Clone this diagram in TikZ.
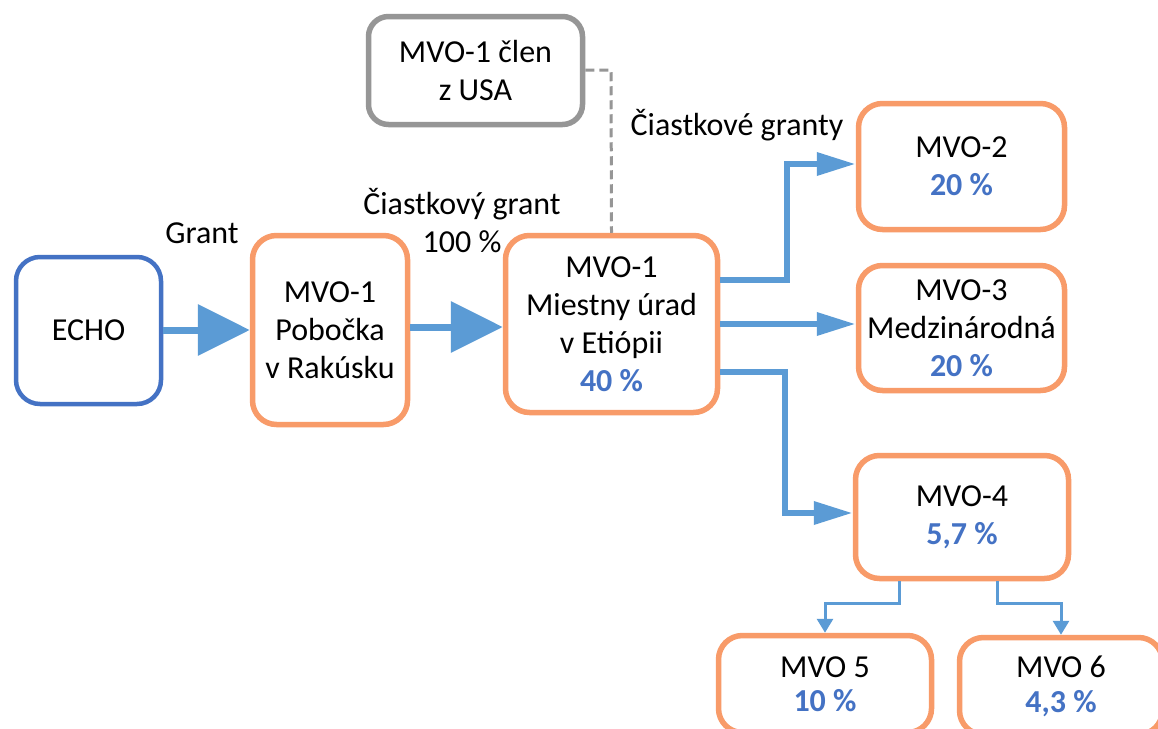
\documentclass[tikz,border=0pt]{standalone}
\usepackage{fontspec}
\setmainfont{Carlito}
\usetikzlibrary{arrows.meta}
\definecolor{boxorange}{RGB}{248,155,105}
\definecolor{boxblue}{RGB}{68,114,196}
\definecolor{arrowblue}{RGB}{91,155,213}
\definecolor{boxgray}{RGB}{150,150,150}
\definecolor{pctblue}{RGB}{68,114,196}
\newcommand\pctx[1]{{\bfseries\color{pctblue}#1}}
\tikzset{
  box/.style={draw, fill=white, rounded corners=24pt, align=center, inner sep=0pt},
  orangebox/.style={box, draw=boxorange, line width=5.5pt},
  bluebox/.style={box, draw=boxblue, line width=4.5pt},
  graybox/.style={box, draw=boxgray, line width=5.5pt, rounded corners=20pt},
  bigarrow/.style={draw=arrowblue, line width=7pt, -{Triangle[length=52pt,width=50pt]}},
  midarrow/.style={draw=arrowblue, line width=6.5pt, -{Triangle[length=39pt,width=22pt]}},
  smallarrow/.style={draw=arrowblue, line width=3pt, -{Triangle[length=14pt,width=16pt]}},
  dashline/.style={draw=boxgray, line width=3pt, dash pattern=on 9pt off 5pt},
  lbl/.style={align=center, inner sep=0pt}
}
\begin{document}
\begin{tikzpicture}[x=1pt, y=-1pt, font=\fontsize{32}{38}\selectfont]
\clip (0,0) rectangle (1158,728);
\fill[white] (0,0) rectangle (1158,728);
% boxes
\node[bluebox, minimum width=145pt, minimum height=147pt] (echo) at (88.5,330.5) {ECHO};
\node[orangebox, minimum width=155pt, minimum height=189pt] (pob) at (330,330) {MVO-1\\Pobočka\\v Rakúsku};
\node[orangebox, minimum width=212pt, minimum height=177pt] (mies) at (611.5,324) {MVO-1\\Miestny úrad\\v Etiópii\\\pctx{40 \%}};
\node[graybox, minimum width=214pt, minimum height=108pt] (clen) at (475.5,70.5) {MVO-1 člen\\z USA};
\node[orangebox, minimum width=206pt, minimum height=126pt] (m2) at (961.5,166.5) {MVO-2\\\pctx{20 \%}};
\node[orangebox, minimum width=206pt, minimum height=125pt] (m3) at (961.5,328) {MVO-3\\Medzinárodná\\\pctx{20 \%}};
\node[orangebox, minimum width=213pt, minimum height=123pt] (m4) at (962,517) {MVO-4\\\pctx{5,7 \%}};
\node[orangebox, minimum width=213pt, minimum height=97pt] (m5) at (825,684) {MVO 5\\[-4pt]\pctx{10 \%}};
\node[orangebox, minimum width=203pt, minimum height=97pt] (m6) at (1061,686) {MVO 6\\[-3pt]\pctx{4,3 \%}};
% labels
\node[lbl] (lgrant) at (202,233) {Grant};
\node[lbl] (lcg) at (462,221) {Čiastkový grant\\100 \%};
\node[lbl] (lcgs) at (737,125) {Čiastkové granty};
% bend coordinates
\coordinate (d1) at (611,70);
\coordinate (b2) at (787,280);
\coordinate (b4) at (785,372);
\coordinate (b5) at (899,603);
\coordinate (b6) at (997,603);
% connectors
\draw[dashline] (clen.east |- d1) -- (d1) -- (mies.north);
\draw[bigarrow] (echo.east |- pob.west) -- (pob.west);
\draw[bigarrow] (pob.east |- 0,327) -- (mies.west |- 0,327);
\draw[midarrow] (mies.east |- b2) -- (b2) |- (m2.west |- 0,164);
\draw[midarrow] (mies.east |- 0,324) -- (m3.west |- 0,324);
\draw[midarrow] (mies.east |- b4) -- (b4) |- (m4.west |- 0,513);
\draw[smallarrow] (m4.south -| b5) -- (b5) -| (m5.north);
\draw[smallarrow] (m4.south -| b6) -- (b6) -| (m6.north);
\end{tikzpicture}
\end{document}
